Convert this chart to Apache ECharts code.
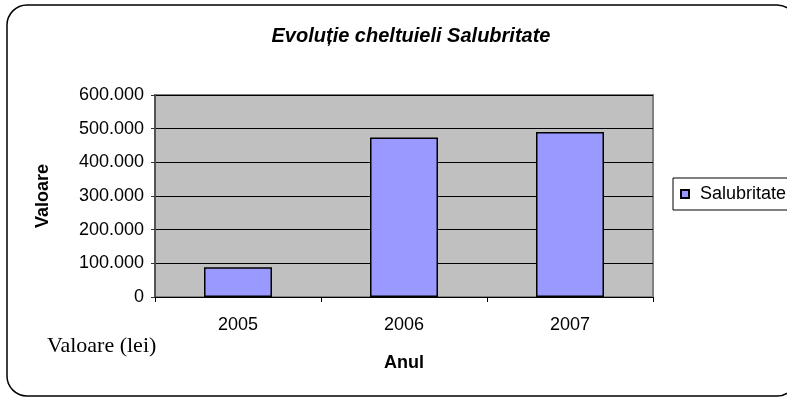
<!DOCTYPE html>
<html>
<head>
<meta charset="utf-8">
<script src="https://cdn.jsdelivr.net/npm/echarts@6/dist/echarts.min.js"></script>
<style>
  html, body { margin: 0; padding: 0; background: #fff; }
  #chart { width: 787px; height: 400px; }
</style>
</head>
<body>
<div id="chart"></div>
<script>
const years = ['2005', '2006', '2007']
const valori = [88000, 474000, 490000]
const yTicks = { min: 0, max: 600000, step: 100000 }

const sans = 'Liberation Sans, Arial, sans-serif'
const serif = 'Liberation Serif, Times New Roman, serif'

function fmt(v) {
  return String(v).replace(/\B(?=(\d{3})+(?!\d))/g, '.')
}

const chart = echarts.init(document.getElementById('chart'))
chart.setOption({
  animation: false,
  title: {
    text: 'Evoluție cheltuieli Salubritate',
    left: 406, top: 21, textAlign: 'center',
    textStyle: { fontFamily: sans, fontSize: 20, fontWeight: 'bold', fontStyle: 'italic', color: '#000' }
  },
  legend: {
    left: 673, top: 178,
    padding: [7, 6, 7, 7],
    borderColor: '#000', borderWidth: 1, borderRadius: 0,
    itemWidth: 8, itemHeight: 8,
    icon: 'rect',
    textStyle: { fontFamily: sans, fontSize: 18, color: '#000', padding: [0, 0, 0, 6] },
    data: ['Salubritate']
  },
  grid: {
    left: 155, right: 134, top: 95, bottom: 103,
    show: true, backgroundColor: '#c0c0c0', borderColor: '#808080', borderWidth: 2
  },
  xAxis: {
    type: 'category', data: years,
    name: 'Anul', nameLocation: 'middle', nameGap: 57,
    nameTextStyle: { fontFamily: sans, fontSize: 18, fontWeight: 'bold', color: '#000' },
    axisLine: { lineStyle: { color: '#000', width: 1 } },
    axisTick: { show: true, length: 5, lineStyle: { color: '#000' } },
    axisLabel: { fontFamily: sans, fontSize: 18, color: '#000', margin: 19 }
  },
  yAxis: {
    type: 'value', min: yTicks.min, max: yTicks.max, interval: yTicks.step,
    name: 'Valoare', nameLocation: 'middle', nameGap: 103,
    nameTextStyle: { fontFamily: sans, fontSize: 18, fontWeight: 'bold', color: '#000' },
    axisLine: { show: true, lineStyle: { color: '#555', width: 2 } },
    axisTick: { show: true, length: 4, lineStyle: { color: '#333' } },
    axisLabel: { fontFamily: sans, fontSize: 18, color: '#000', margin: 11, formatter: fmt },
    splitLine: { show: true, lineStyle: { color: '#000', width: 1 } }
  },
  series: [{
    name: 'Salubritate',
    type: 'bar',
    data: valori,
    barWidth: 68,
    itemStyle: { color: '#9999ff', borderColor: '#000', borderWidth: 1.5 }
  }],
  graphic: [
    {
      type: 'rect',
      shape: { x: 7, y: 5, width: 790, height: 391, r: 20 },
      style: { fill: 'none', stroke: '#000', lineWidth: 1.5 },
      silent: true
    },
    {
      type: 'text',
      left: 47, top: 335,
      style: { text: 'Valoare (lei)', font: '22px ' + serif, fill: '#000' }
    }
  ]
})
</script>
</body>
</html>
